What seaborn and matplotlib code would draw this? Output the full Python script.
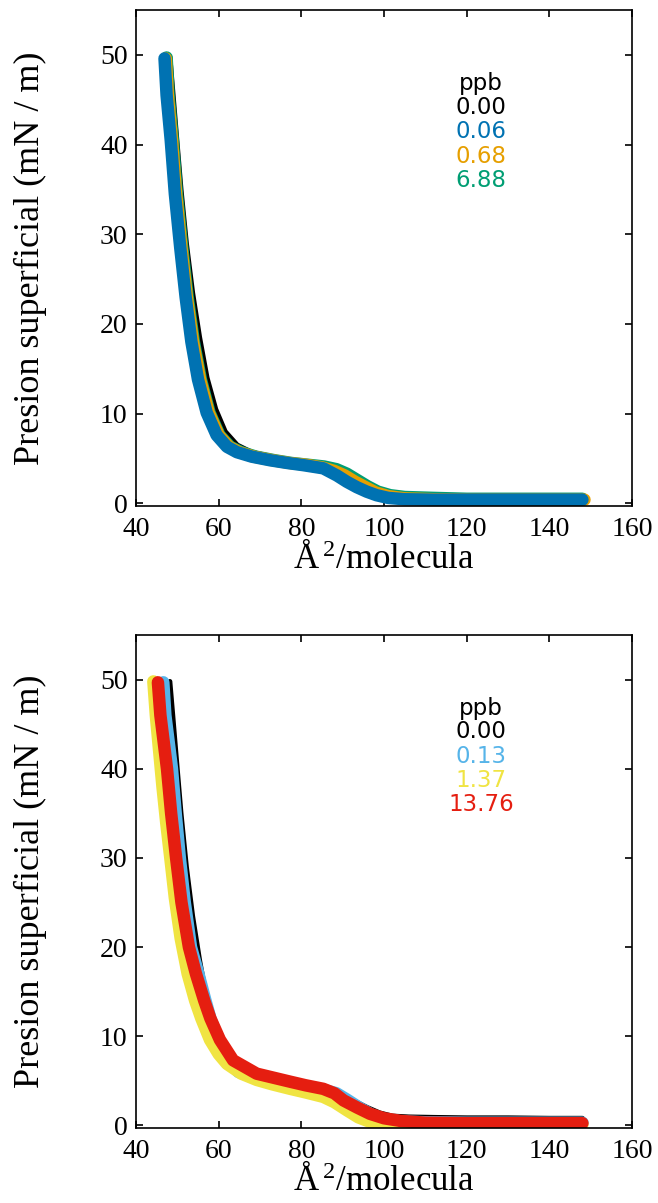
import numpy as np
import pandas as pd
import matplotlib
matplotlib.use("Agg")
import matplotlib.pyplot as plt
import seaborn as sns

# ---- Isotherm data: area per molecule (Å^2) vs surface pressure (mN/m) ----
# Reference monolayer (0.00 ppb), shared by both panels
area_000 = [48.2, 48.9, 49.8, 50.9, 52.2, 53.7, 55.4, 57.2, 59.3, 61.6, 64.5, 68.0, 73.0,
            78.0, 83.0, 87.0, 90.0, 93.0, 96.0, 99.0, 102.0, 106.0, 112.0, 120.0, 130.0, 140.0, 148.0]
pres_000 = [49.8, 46.0, 41.0, 35.0, 29.0, 23.5, 18.5, 14.0, 10.5, 8.0, 6.5, 5.7, 5.2,
            4.8, 4.4, 4.0, 3.5, 2.7, 2.0, 1.4, 1.05, 0.95, 0.9, 0.85, 0.85, 0.8, 0.8]

# Upper panel
area_006 = [46.9, 47.4, 48.4, 49.4, 50.7, 52.0, 53.4, 55.0, 57.1, 59.5, 62.0, 64.4, 68.0, 72.4,
            76.5, 80.5, 85.3, 88.6, 91.0, 93.4, 95.8, 98.2, 101.0, 105.0, 112.0, 120.0, 130.0, 140.0, 148.0]
pres_006 = [49.6, 45.5, 40.5, 34.5, 28.5, 23.0, 18.0, 13.8, 10.1, 7.6, 6.3, 5.7, 5.2, 4.8,
            4.5, 4.25, 3.9, 3.1, 2.4, 1.8, 1.3, 0.9, 0.6, 0.45, 0.4, 0.4, 0.4, 0.4, 0.4]

area_068 = [47.2, 47.7, 48.7, 49.7, 51.0, 52.3, 53.8, 55.5, 57.6, 60.0, 62.5, 65.0, 68.5, 73.0,
            77.0, 81.0, 85.0, 88.0, 90.5, 93.0, 95.5, 98.0, 101.0, 105.0, 112.0, 120.0, 130.0, 140.0, 148.5]
pres_068 = [49.6, 45.5, 40.5, 34.5, 28.5, 23.0, 18.0, 13.8, 10.1, 7.6, 6.3, 5.7, 5.2, 4.8,
            4.5, 4.3, 4.0, 3.6, 3.1, 2.4, 1.8, 1.2, 0.8, 0.55, 0.45, 0.4, 0.4, 0.4, 0.4]

area_688 = [47.4, 47.9, 48.9, 49.9, 51.2, 52.5, 54.0, 55.7, 57.8, 60.2, 62.8, 65.5, 69.0, 73.5,
            77.5, 81.5, 85.5, 88.5, 91.0, 93.5, 96.0, 98.5, 101.5, 105.0, 112.0, 120.0, 130.0, 140.0, 148.0]
pres_688 = [49.7, 45.5, 40.5, 34.5, 28.5, 23.0, 18.0, 13.8, 10.1, 7.6, 6.3, 5.7, 5.2, 4.8,
            4.5, 4.3, 4.1, 3.8, 3.3, 2.6, 1.9, 1.3, 0.9, 0.7, 0.6, 0.5, 0.5, 0.5, 0.5]

# Lower panel
area_013 = [46.6, 47.1, 47.9, 48.7, 49.6, 50.6, 51.8, 53.3, 55.1, 56.8, 58.0, 59.8, 62.0, 64.8,
            69.5, 77.5, 81.0, 85.3, 88.5, 91.0, 94.0, 97.0, 100.0, 104.0, 110.0, 120.0, 130.0, 140.0, 148.0]
pres_013 = [49.7, 46.0, 43.0, 40.0, 35.0, 30.0, 25.0, 20.0, 17.0, 14.0, 12.0, 9.6, 7.3, 6.0,
            5.2, 4.5, 4.3, 4.0, 3.6, 2.9, 2.0, 1.2, 0.7, 0.45, 0.35, 0.3, 0.3, 0.3, 0.3]

area_137 = [44.2, 44.8, 45.6, 46.4, 47.3, 48.3, 49.4, 50.8, 52.5, 54.3, 55.8, 57.9, 60.0, 62.0,
            65.5, 69.2, 73.0, 77.3, 81.0, 85.3, 88.0, 91.0, 93.8, 96.6, 99.0, 102.0, 106.0, 112.0,
            120.0, 130.0, 140.0, 148.0]
pres_137 = [49.8, 46.0, 42.0, 38.0, 34.0, 30.0, 25.5, 21.0, 17.0, 14.0, 12.0, 9.6, 8.0, 6.9,
            5.8, 5.1, 4.6, 4.1, 3.7, 3.2, 2.6, 1.7, 0.9, 0.4, 0.2, 0.1, 0.1, 0.1,
            0.1, 0.1, 0.1, 0.1]

area_1376 = [45.3, 45.9, 46.7, 47.5, 48.5, 49.7, 51.0, 52.8, 54.5, 56.5, 58.0, 60.3, 63.5, 69.2,
             77.3, 81.0, 85.3, 88.0, 90.2, 93.5, 96.6, 100.0, 104.0, 110.0, 120.0, 130.0, 140.0, 148.0]
pres_1376 = [49.7, 46.0, 43.0, 40.0, 35.0, 30.0, 25.0, 20.0, 17.0, 14.0, 12.0, 9.6, 7.3, 5.8,
             4.9, 4.5, 4.1, 3.6, 2.8, 2.0, 1.3, 0.8, 0.5, 0.3, 0.25, 0.25, 0.25, 0.25]

top_labels = ["0.00", "0.06", "0.68", "6.88"]
top_colors = ["#000000", "#0072B2", "#E69F00", "#009E73"]
bottom_labels = ["0.00", "0.13", "1.37", "13.76"]
bottom_colors = ["#000000", "#56B4E9", "#F0E442", "#E51E10"]

x_ticks = [40, 60, 80, 100, 120, 140, 160]
y_ticks = [0, 10, 20, 30, 40, 50]

sns.set_theme(style="ticks")
plt.rcParams["font.family"] = ["Liberation Serif", "DejaVu Serif"]
plt.rcParams["mathtext.fontset"] = "custom"
plt.rcParams["mathtext.rm"] = "Liberation Serif"
plt.rcParams["mathtext.it"] = "Liberation Serif"
for key in ["text.color", "axes.labelcolor", "xtick.color", "ytick.color", "axes.edgecolor"]:
    plt.rcParams[key] = "black"


def frame(series):
    parts = []
    for label, a, p in series:
        parts.append(pd.DataFrame({"area": a, "pressure": p, "ppb": label}))
    return pd.concat(parts, ignore_index=True)


fig = plt.figure(figsize=(6.58, 12.03), dpi=100)
ax_top = fig.add_axes([0.2067, 0.5794, 0.7538, 0.4123])
ax_bot = fig.add_axes([0.2067, 0.0623, 0.7538, 0.4098])

top_df = frame([("0.00", area_000, pres_000), ("6.88", area_688, pres_688),
                ("0.68", area_068, pres_068), ("0.06", area_006, pres_006)])
bot_df = frame([("0.00", area_000, pres_000), ("0.13", area_013, pres_013),
                ("1.37", area_137, pres_137), ("13.76", area_1376, pres_1376)])

panels = [
    (ax_top, top_df, ["0.00", "6.88", "0.68", "0.06"], top_labels, top_colors),
    (ax_bot, bot_df, ["0.00", "0.13", "1.37", "13.76"], bottom_labels, bottom_colors),
]

for ax, df, order, labels, colors in panels:
    pal = dict(zip(labels, colors))
    for lab in order:
        sub = df[df["ppb"] == lab]
        width = 3.5 if lab == "0.00" else 9
        sns.lineplot(data=sub, x="area", y="pressure", color=pal[lab], sort=False,
                     estimator=None, linewidth=width, solid_capstyle="round",
                     solid_joinstyle="round", ax=ax, legend=False)

    ax.set_xlim(40, 160)
    ax.set_ylim(-0.3, 55)
    ax.set_xticks(x_ticks)
    ax.set_yticks(y_ticks)
    ax.tick_params(direction="in", length=5, width=1.2, top=True, right=True,
                   labelsize=20, pad=6, colors="black")
    ax.tick_params(axis="x", pad=8)
    for sp in ax.spines.values():
        sp.set_visible(True)
        sp.set_linewidth(1.2)
        sp.set_color("black")
    ax.set_xlabel("Å$\\,^2$/molecula", fontsize=25, labelpad=0)
    ax.set_ylabel("Presion superficial (mN / m)", fontsize=26, labelpad=38)

    # ppb key, one colored line per concentration
    ax.text(0.696, 0.852, "ppb", transform=ax.transAxes, ha="center", va="center",
            fontsize=16.5, family="DejaVu Sans", color="black")
    for i, (lab, col) in enumerate(zip(labels, colors)):
        ax.text(0.696, 0.804 - i * 0.0495, lab, transform=ax.transAxes, ha="center",
                va="center", fontsize=16.5, family="DejaVu Sans", color=col)

fig.savefig("out.png", dpi=100)
